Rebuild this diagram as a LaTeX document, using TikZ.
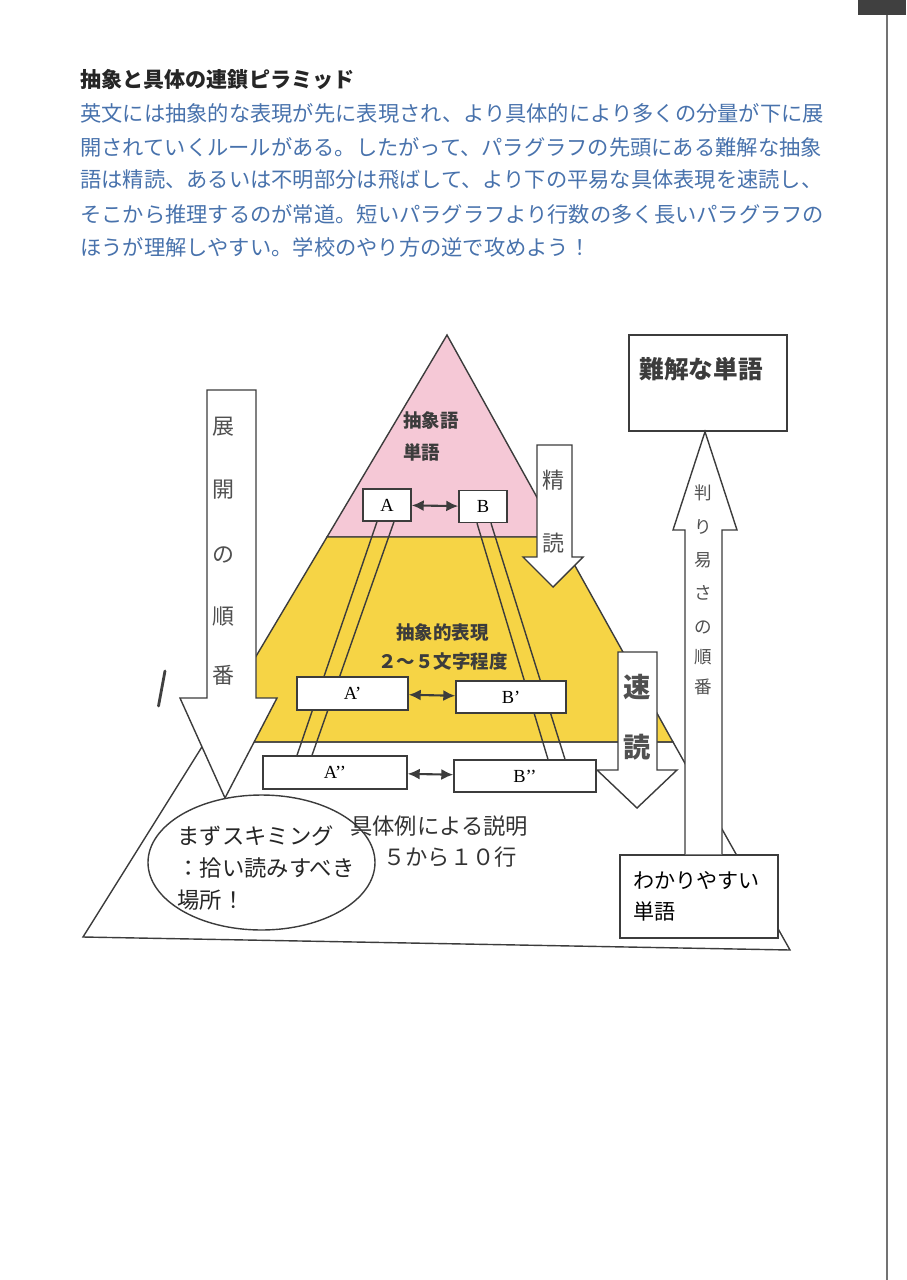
\documentclass[tikz,border=0pt]{standalone}
\usepackage{fontspec}
\usetikzlibrary{shapes.geometric,backgrounds,arrows.meta}
\newfontfamily\jp{Noto Sans CJK JP}
\newfontfamily\serif{Liberation Serif}
\definecolor{pinkpyr}{RGB}{245,200,214}
\definecolor{yellowpyr}{RGB}{246,212,69}
\definecolor{bluetext}{RGB}{72,114,172}
\definecolor{ink}{RGB}{60,60,60}

\tikzset{
    heading/.style={anchor=west, inner sep=0pt, text=black!85, font=\jp\bfseries\fontsize{12}{14}\selectfont},
    para/.style={anchor=west, inner sep=0pt, text=bluetext, font=\jp\fontsize{12.1}{14}\selectfont},
    letterbox/.style={draw=ink, thick, fill=white, inner sep=0pt, font=\serif\fontsize{10.5}{12}\selectfont},
    wordbox/.style={draw=ink, thick, fill=white, inner sep=0pt},
    bigarrow/.style={draw=ink, thick, fill=white, line join=miter},
    pairarrow/.style={ink, line width=1.2pt, {Latex[length=2.4mm,width=2.2mm]}-{Latex[length=2.4mm,width=2.2mm]}},
    pyrlabel/.style={inner sep=0pt, text=ink, align=left, font=\jp\bfseries\fontsize{10.5}{18.2}\selectfont},
    arrowtext/.style={inner sep=0pt, text=ink!90, font=\jp\fontsize{12.5}{14}\selectfont},
    bodytext/.style={inner sep=0pt, text=black!80, font=\jp\fontsize{12.7}{18}\selectfont}
}

\begin{document}
\begin{tikzpicture}[y=-1cm]
    \useasboundingbox (0,0) rectangle (18.12,25.6);

    \draw node[heading] (title) at (1.6, 1.6) {抽象と具体の連鎖ピラミッド}
        node[para] (l1) at (1.6, 2.26) {英文には抽象的な表現が先に表現され、より具体的により多くの分量が下に展}
        node[para] (l2) at (1.6, 2.94) {開されていくルールがある。したがって、パラグラフの先頭にある難解な抽象}
        node[para] (l3) at (1.6, 3.60) {語は精読、あるいは不明部分は飛ばして、より下の平易な具体表現を速読し、}
        node[para] (l4) at (1.6, 4.28) {そこから推理するのが常道。短いパラグラフより行数の多く長いパラグラフの}
        node[para] (l5) at (1.6, 4.94) {ほうが理解しやすい。学校のやり方の逆で攻めよう！};

    \node[letterbox, minimum width=0.96cm, minimum height=0.64cm] (A) at (7.74, 10.10) {A};
    \node[letterbox, minimum width=0.96cm, minimum height=0.64cm] (B) at (9.66, 10.13) {B};
    \node[letterbox, minimum width=2.22cm, minimum height=0.66cm] (Ad) at (7.05, 13.87) {A’};
    \node[letterbox, minimum width=2.20cm, minimum height=0.64cm] (Bd) at (10.22, 13.94) {B’};
    \node[letterbox, minimum width=2.88cm, minimum height=0.66cm] (Add) at (6.70, 15.45) {A’’};
    \node[letterbox, minimum width=2.84cm, minimum height=0.64cm] (Bdd) at (10.50, 15.52) {B’’};

    \begin{scope}[on background layer]
        \filldraw[draw=ink, thick, fill=pinkpyr] (8.94, 6.70) -- (11.18, 10.74) -- (6.54, 10.74) -- cycle;
        \filldraw[draw=ink, thick, fill=yellowpyr] (6.54, 10.74) -- (11.18, 10.74)
            -- (13.46, 14.84) -- (4.10, 14.84) -- cycle;
        \draw[ink, thick] (4.10, 14.84) -- (13.46, 14.84) -- (15.80, 19.00) -- (1.66, 18.74) -- cycle;

        \draw[ink, thick] ([xshift=-0.20cm]A.south) -- ([xshift=-0.76cm]Add.north)
            ([xshift=0.14cm]A.south) -- ([xshift=-0.46cm]Add.north);
        \draw[ink, thick] ([xshift=-0.12cm]B.south) -- ([xshift=0.46cm]Bdd.north)
            ([xshift=0.16cm]B.south) -- ([xshift=0.80cm]Bdd.north);
    \end{scope}

    \draw[pairarrow] (A) -- (B);
    \draw[pairarrow] (Ad) -- (Bd);
    \draw[pairarrow] (Add) -- (Bdd);

    \draw node[pyrlabel] (absword) at (8.62, 8.72) {抽象語\\単語}
        node[pyrlabel] (absexpr) at (8.85, 12.64) {抽象的表現}
        node[pyrlabel] (chars) at (8.86, 13.24) {２～５文字程度};

    % big arrows
    \draw[bigarrow] (4.14, 7.80) -- (5.12, 7.80) -- (5.12, 13.96) -- (5.54, 13.96)
        -- (4.50, 15.96) -- (3.60, 13.96) -- (4.14, 13.96) -- cycle;
    \draw[bigarrow] (10.74, 8.90) -- (11.44, 8.90) -- (11.44, 11.14) -- (11.66, 11.14)
        -- (11.06, 11.74) -- (10.46, 11.14) -- (10.74, 11.14) -- cycle;
    \draw[bigarrow] (12.36, 13.04) -- (13.14, 13.04) -- (13.14, 15.40) -- (13.54, 15.40)
        -- (12.74, 16.16) -- (11.94, 15.40) -- (12.36, 15.40) -- cycle;

    \foreach \ch/\y [count=\i] in {展/8.54, 開/9.80, の/11.10, 順/12.34, 番/13.50}
        \node[arrowtext] (ord\i) at (4.47, \y) {\ch};
    \node[arrowtext] (fine1) at (11.06, 9.60) {精};
    \node[arrowtext] (fine2) at (11.06, 10.86) {読};
    \node[arrowtext, font=\jp\bfseries\fontsize{15.5}{18}\selectfont] (fast1) at (12.74, 13.74) {速};
    \node[arrowtext, font=\jp\bfseries\fontsize{15.5}{18}\selectfont] (fast2) at (12.74, 14.94) {読};

    \node[wordbox, minimum width=3.16cm, minimum height=1.92cm] (hard) at (14.16, 7.66) {};
    \node[anchor=west, inner sep=0pt, text=ink, font=\jp\bfseries\fontsize{14}{16}\selectfont] (hardtext)
        at ([shift={(0.22cm,-0.70cm)}]hard.north west) {難解な単語};
    \node[wordbox, text width=2.64cm, inner xsep=0.26cm, minimum height=1.66cm, align=left,
        font=\jp\fontsize{12}{17.6}\selectfont] (easy) at (13.98, 17.93) {わかりやすい\\単語};

    \draw[bigarrow] ([xshift=-0.28cm]easy.north) -- (13.70, 10.60) -- (13.46, 10.60)
        -- ([xshift=-0.06cm]hard.south) -- (14.74, 10.60) -- (14.44, 10.60) -- ([xshift=0.46cm]easy.north);
    \foreach \ch/\y [count=\i] in {判/9.86, り/10.54, 易/11.20, さ/11.86, の/12.54, 順/13.14, 番/13.74}
        \node[arrowtext, font=\jp\fontsize{10}{12}\selectfont] (ease\i) at (14.06, \y) {\ch};

    \node[ellipse, draw=ink, thick, fill=white, minimum width=4.54cm, minimum height=2.70cm] (skim)
        at (5.23, 17.25) {};
    \node[inner sep=0pt, align=left, text=black!85, font=\jp\fontsize{12.7}{18.2}\selectfont] (skimtext)
        at (5.32, 17.36) {まずスキミング\\：拾い読みすべき\\場所！};
    \node[bodytext] (expl) at (8.78, 16.52) {具体例による説明};
    \node[bodytext] (lines) at (9.00, 17.14) {５から１０行};

    % scan marks
    \draw[black!75, line width=1.6pt, line cap=round] (3.30, 13.42) -- (3.17, 14.12);
    \fill[black!75] (17.16, 0) rectangle (18.12, 0.30);
    \draw[black!55, line width=1.2pt] (17.74, 0.30) -- (17.74, 25.6);
\end{tikzpicture}
\end{document}
